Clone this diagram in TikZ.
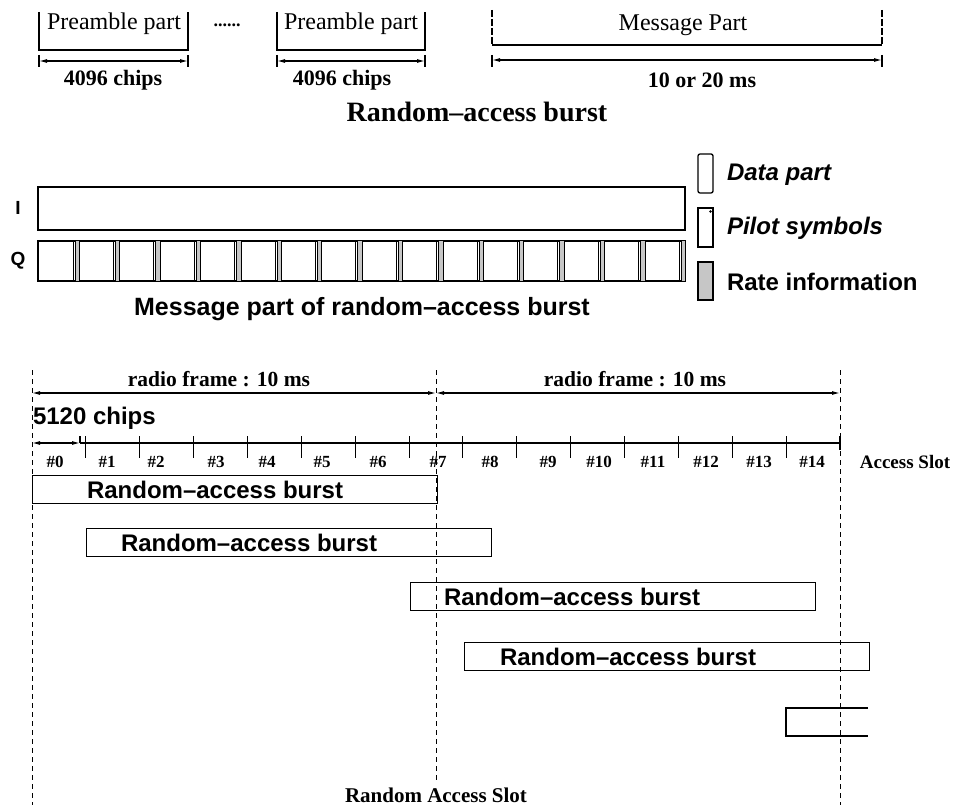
\documentclass[tikz,border=0pt]{standalone}
\usepackage{fontspec}
\setmainfont{Liberation Serif}
\setsansfont{Liberation Sans}
\usetikzlibrary{arrows.meta}
\tikzset{
  ln/.style={line width=1.3pt},
  thinln/.style={line width=0.9pt},
  dimarr/.style={line width=1.1pt, {Latex[length=8pt,width=4pt]}-{Latex[length=8pt,width=4pt]}},
  vdash/.style={line width=1pt, dash pattern=on 5pt off 4pt},
  txt/.style={inner sep=0pt, outer sep=0pt},
  serifr/.style={txt, font=\fontsize{24}{28}\selectfont},
  serifb/.style={txt, font=\fontsize{22}{26}\selectfont\bfseries},
  titleb/.style={txt, font=\fontsize{28}{32}\selectfont\bfseries},
  framelab/.style={txt, font=\fontsize{21.5}{25}\selectfont\bfseries},
  sansb/.style={txt, font=\sffamily\fontsize{24}{28}\selectfont\bfseries},
  sansbi/.style={txt, font=\sffamily\fontsize{24}{28}\selectfont\bfseries\itshape},
  iqlab/.style={txt, font=\sffamily\fontsize{19}{22}\selectfont\bfseries},
  slotlab/.style={txt, font=\fontsize{17}{20}\selectfont\bfseries},
  burst/.style={ln, draw, minimum height=28pt, minimum width=405pt, anchor=north west, inner sep=0pt},
  ratefill/.style={fill=gray!45},
}
\begin{document}
\begin{tikzpicture}[x=1pt,y=-1pt]
\useasboundingbox (0,0) rectangle (954,805);

% ---------- top: random-access burst ----------
\draw[ln] (39,12) -- (39,50) -- (188,50) -- (188,12);
\node[serifr] (pre1) at (114,24) {Preamble part};
\node[txt, font=\fontsize{18}{20}\selectfont\bfseries] (dots) at (227,25) {......};
\draw[ln] (277,12) -- (277,50) -- (425,50) -- (425,12);
\node[serifr] (pre2) at (351,24) {Preamble part};
\draw[ln, dash pattern=on 7pt off 2pt] (492,10) -- (492,45);
\draw[ln, dash pattern=on 7pt off 2pt] (882,10) -- (882,45);
\draw[ln] (492,45) -- (882,45);
\node[serifr] (msgp) at (683,25) {Message Part};

\coordinate (a1l) at (39,61);  \coordinate (a1r) at (188,61);
\coordinate (a2l) at (277,61); \coordinate (a2r) at (425,61);
\coordinate (a3l) at (492,60); \coordinate (a3r) at (882,60);
\draw[dimarr] (a1l) -- (a1r);
\draw[dimarr] (a2l) -- (a2r);
\draw[dimarr] (a3l) -- (a3r);
\foreach \x in {39,188,277,425,492,882} { \draw[ln] (\x,55) -- (\x,67); }

\node[serifb] (c1) at (113,80) {4096 chips};
\node[serifb] (c2) at (342,80) {4096 chips};
\node[serifb] (ms) at (702,80) {10 or 20 ms};
\node[titleb] (rab) at (477,112) {Random–access burst};

% ---------- middle: message part ----------
\node[iqlab] (Il) at (18,208) {I};
\draw[ln] (38,187) rectangle (685,230);
\node[iqlab] (Ql) at (18,261) {Q};
\draw[ln] (38,241) rectangle (685,281);
\foreach \k in {0,...,15} {
  \pgfmathsetmacro\xa{73+40.4*\k}
  \fill[ratefill] (\xa+2,241) rectangle (\xa+6.5,281);
  \draw[thinln] (\xa,241) -- (\xa,281) (\xa+2,241) -- (\xa+2,281) (\xa+6.5,241) -- (\xa+6.5,281);
}

\draw[ln, rounded corners=2pt] (698,154) rectangle (713,193);
\draw[ln] (698,208) rectangle (713,247);
\fill (710.5,211.5) circle (1.3pt);
\draw[ln, ratefill] (698,262) rectangle (713,300);
\node[sansbi, anchor=west] (ldp) at (727,175) {Data part};
\node[sansbi, anchor=west] (lps) at (727,228) {Pilot symbols};
\node[sansb, anchor=west] (lri) at (727,282) {Rate information};

\node[txt, font=\sffamily\fontsize{25}{28}\selectfont\bfseries] (mpl) at (362,309) {Message part of random–access burst};

% ---------- bottom: access slots ----------
\draw[vdash] (32,370) -- (32,805);
\draw[vdash] (436,370) -- (436,782);
\draw[vdash] (840,370) -- (840,805);

\coordinate (f0) at (32,393); \coordinate (f1) at (436,393); \coordinate (f2) at (840,393);
\draw[dimarr] (f0) -- (f1);
\draw[dimarr] (f1) -- (f2);
\node[framelab] (rf1) at (219,379) {radio frame : 10 ms};
\node[framelab] (rf2) at (635,379) {radio frame : 10 ms};

\node[sansb, anchor=west] (chips) at (33,418) {5120 chips};
\coordinate (s0) at (32,443); \coordinate (s0e) at (80,443); \coordinate (axe) at (840,443);
\draw[dimarr] (s0) -- (s0e);
\draw[line width=1.1pt] (s0e) -- (axe);
\draw[ln] (80,436) -- (80,443);
\foreach \k in {1,...,14} { \draw[line width=1.1pt] (32+53.867*\k,436) -- (32+53.867*\k,458); }
\draw[ln] (840,436) -- (840,450);

\foreach \x/\n in {55/0,107/1,156/2,216/3,267/4,322/5,378/6,438/7,490/8,548/9,599/10,653/11,706/12,759/13,812/14} {
  \node[slotlab] (sl\n) at (\x,462) {\#\n};
}
\node[txt, font=\fontsize{19}{22}\selectfont\bfseries] (aslot) at (905,462) {Access Slot};

\node[burst] (b1) at (32,475) {};
\node[sansb, anchor=west] (t1) at ([xshift=55pt]b1.west) {Random–access burst};
\node[burst] (b2) at (85.5,528) {};
\node[sansb, anchor=west] (t2) at ([xshift=35.5pt]b2.west) {Random–access burst};
\node[burst] (b3) at (410,582) {};
\node[sansb, anchor=west] (t3) at ([xshift=34pt]b3.west) {Random–access burst};
\node[burst] (b4) at (464,642) {};
\node[sansb, anchor=west] (t4) at ([xshift=36pt]b4.west) {Random–access burst};
\draw[ln] (868,708) -- (786,708) -- (786,736) -- (868,736);

\node[txt, font=\fontsize{21}{24}\selectfont\bfseries] (ras) at (436,795) {Random Access Slot};
\end{tikzpicture}
\end{document}
